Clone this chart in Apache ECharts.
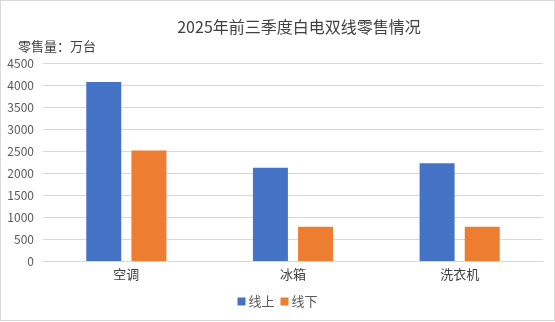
<!DOCTYPE html>
<html>
<head>
<meta charset="utf-8">
<script src="https://cdn.jsdelivr.net/npm/echarts@6/dist/echarts.min.js"></script>
<style>
  html, body { margin: 0; padding: 0; background: #fff; }
  #chart { width: 553px; height: 319px; border: 1px solid #D9D9D9; }
</style>
</head>
<body>
<div id="chart"></div>
<script>
// Categories and retail volumes (万台), first three quarters of 2025
const categories = ['空调', '冰箱', '洗衣机'];
const onlineSales = [4070, 2120, 2220];
const offlineSales = [2510, 780, 780];
const seriesNames = ['线上', '线下'];
const chartTitle = '2025年前三季度白电双线零售情况';
const unitLabel = '零售量：万台';

const FONT = '"Noto Sans CJK SC", "Microsoft YaHei", sans-serif';
const chart = echarts.init(document.getElementById('chart'));

chart.setOption({
  animation: false,
  textStyle: { fontFamily: FONT },
  title: [
    {
      text: chartTitle,
      left: 293, top: 13, textAlign: 'center',
      textStyle: { fontSize: 16, fontWeight: 'normal', color: '#404040', fontFamily: FONT }
    },
    {
      text: unitLabel,
      left: 12, top: 34,
      textStyle: { fontSize: 13, fontWeight: 'normal', color: '#404040', fontFamily: FONT }
    }
  ],
  legend: {
    data: seriesNames,
    left: 'center', top: 289,
    itemWidth: 8, itemHeight: 8, itemGap: 6,
    icon: 'rect',
    textStyle: { fontSize: 13, color: '#595959', fontFamily: FONT, padding: [0, 0, 0, -2] }
  },
  grid: { left: 42, right: 11, top: 62, bottom: 59, containLabel: false },
  xAxis: {
    type: 'category',
    data: categories,
    axisLine: { lineStyle: { color: '#D9D9D9' } },
    axisTick: { show: false },
    axisLabel: { fontSize: 13, color: '#404040', margin: 7, fontFamily: FONT }
  },
  yAxis: {
    type: 'value',
    min: 0, max: 4500, interval: 500,
    axisLine: { show: false },
    axisTick: { show: false },
    splitLine: { lineStyle: { color: '#D9D9D9' } },
    axisLabel: {
      fontSize: 12, color: '#595959', margin: 9, fontFamily: FONT,
      formatter: (v) => String(v)
    }
  },
  series: [
    {
      name: seriesNames[0], type: 'bar', data: onlineSales,
      barWidth: 35, barGap: '29%',
      itemStyle: { color: '#4472C4' }
    },
    {
      name: seriesNames[1], type: 'bar', data: offlineSales,
      barWidth: 35,
      itemStyle: { color: '#ED7D31' }
    }
  ]
});
</script>
</body>
</html>
